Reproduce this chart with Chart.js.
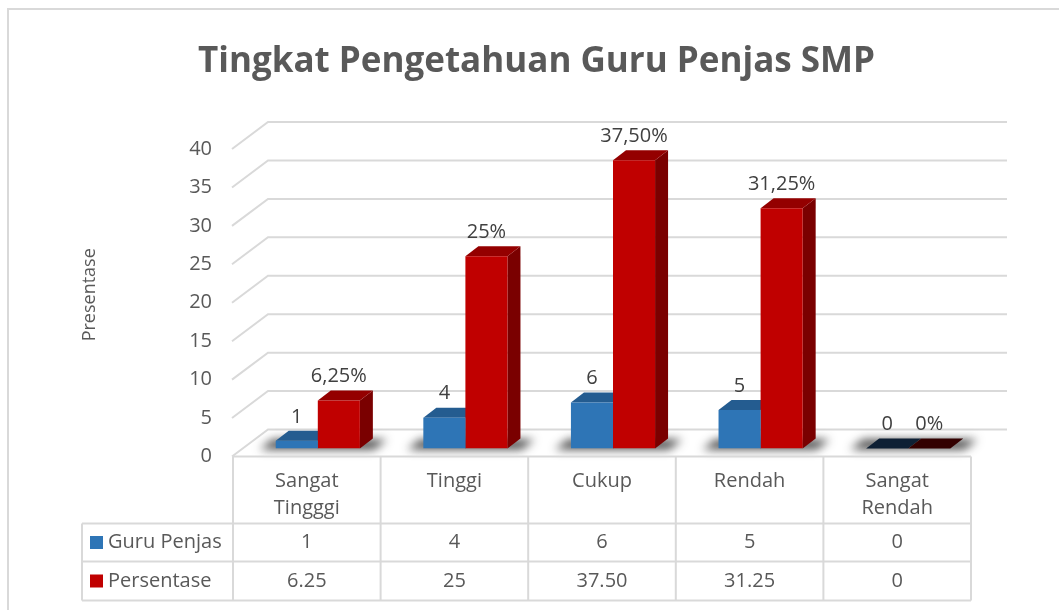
<!DOCTYPE html>
<html>
<head>
<meta charset="utf-8">
<script src="https://cdn.jsdelivr.net/npm/chart.js@4.4.1/dist/chart.umd.min.js"></script>
<style>
  html, body { margin: 0; padding: 0; background: #fff; }
  #wrap { width: 1059px; height: 610px; }
</style>
</head>
<body>
<div id="wrap"><canvas id="myChart" width="1059" height="610"></canvas></div>
<script>
  const categories = [['Sangat', 'Tingggi'], 'Tinggi', 'Cukup', 'Rendah', ['Sangat', 'Rendah']];
  const guruPenjas = [1, 4, 6, 5, 0];
  const persentase = [6.25, 25, 37.5, 31.25, 0];
  const persenLabels = ['6,25%', '25%', '37,50%', '31,25%', '0%'];
  const persenTable = ['6.25', '25', '37.50', '31.25', '0'];
  const seriesNames = ['Guru Penjas', 'Persentase'];
  const yMin = 0, yMax = 40, yStep = 5;

  const FONT = "'Open Sans', sans-serif";
  const TEXT = '#595959';
  const LINE = '#d9d9d9';
  // depth of bars and of the 3d walls
  const BDX = 13, BDY = -10;
  const faces = [
    { front: '#2E75B6', top: '#245C90', side: '#1F4E79', zero: '#0E2034' },
    { front: '#C00000', top: '#940000', side: '#7A0000', zero: '#330000' }
  ];

  function poly(ctx, pts, fill) {
    ctx.beginPath();
    ctx.moveTo(pts[0][0], pts[0][1]);
    for (let i = 1; i < pts.length; i++) ctx.lineTo(pts[i][0], pts[i][1]);
    ctx.closePath();
    ctx.fillStyle = fill;
    ctx.fill();
  }

  const bars3d = {
    id: 'bars3d',
    beforeDraw(chart) {
      const ctx = chart.ctx;
      ctx.save();
      ctx.strokeStyle = LINE;
      ctx.lineWidth = 2;
      ctx.beginPath();
      ctx.moveTo(8, 610); ctx.lineTo(8, 9); ctx.lineTo(1059, 9);
      ctx.stroke();
      ctx.restore();
    },
    beforeDatasetsDraw(chart) {
      const ctx = chart.ctx, a = chart.chartArea, ys = chart.scales.y;
      ctx.save();
      // 3d grid walls
      ctx.strokeStyle = LINE;
      ctx.lineWidth = 2;
      ys.ticks.forEach(t => {
        const p = ys.getPixelForValue(t.value);
        ctx.beginPath();
        ctx.moveTo(a.left - 12, p + 8);
        ctx.lineTo(a.left + 24, p - 19);
        ctx.lineTo(a.right + 25, p - 19);
        ctx.stroke();
      });
      const m0 = chart.getDatasetMeta(0).data, m1 = chart.getDatasetMeta(1).data;
      // floor shadows
      ctx.filter = 'blur(5px)';
      for (let i = 0; i < m0.length; i++) {
        const b0 = m0[i].getProps(['x', 'base', 'width'], true);
        const b1 = m1[i].getProps(['x', 'base', 'width'], true);
        const l = b0.x - b0.width / 2 - 16, r = b1.x + b1.width / 2 + 14;
        poly(ctx, [[l, b0.base + 1], [r, b0.base + 1], [r + BDX, b0.base + BDY + 1], [l + BDX, b0.base + BDY + 1]], 'rgba(30,30,30,0.8)');
      }
      ctx.filter = 'none';
      // side and top faces
      [m0, m1].forEach((meta, d) => {
        meta.forEach(el => {
          const b = el.getProps(['x', 'y', 'base', 'width'], true);
          const l = b.x - b.width / 2, r = b.x + b.width / 2;
          if (Math.abs(b.base - b.y) < 1) {
            poly(ctx, [[l, b.base], [r, b.base], [r + BDX, b.base + BDY], [l + BDX, b.base + BDY]], faces[d].zero);
            return;
          }
          poly(ctx, [[r, b.y], [r + BDX, b.y + BDY], [r + BDX, b.base + BDY], [r, b.base]], faces[d].side);
          poly(ctx, [[l, b.y], [r, b.y], [r + BDX, b.y + BDY], [l + BDX, b.y + BDY]], faces[d].top);
        });
      });
      ctx.restore();
    },
    afterDatasetsDraw(chart) {
      const ctx = chart.ctx;
      ctx.save();
      ctx.font = '20px ' + FONT;
      ctx.fillStyle = '#404040';
      ctx.textAlign = 'center';
      ctx.textBaseline = 'middle';
      chart.getDatasetMeta(0).data.forEach((el, i) => {
        ctx.fillText(String(guruPenjas[i]), el.x, el.y - 24);
      });
      chart.getDatasetMeta(1).data.forEach((el, i) => {
        ctx.fillText(persenLabels[i], el.x, el.y - 24);
      });
      ctx.restore();
    },
    afterDraw(chart) {
      // data table under the axis
      const ctx = chart.ctx, a = chart.chartArea, xs = chart.scales.x;
      const half = (xs.getPixelForValue(1) - xs.getPixelForValue(0)) / 2;
      const cx = i => xs.getPixelForValue(i) - 11;
      const colL = cx(0) - half, colR = cx(categories.length - 1) + half;
      const top = a.bottom + 8, r1 = top + 67, r2 = r1 + 38, r3 = r2 + 39, legL = 82;
      ctx.save();
      ctx.strokeStyle = LINE;
      ctx.lineWidth = 2;
      ctx.beginPath();
      ctx.moveTo(colL, top); ctx.lineTo(colR, top);
      [r1, r2, r3].forEach(y => { ctx.moveTo(legL, y); ctx.lineTo(colR, y); });
      ctx.moveTo(legL, r1); ctx.lineTo(legL, r3);
      for (let i = 0; i <= categories.length; i++) {
        const x = colL + i * half * 2;
        ctx.moveTo(x, top); ctx.lineTo(x, r3);
      }
      ctx.stroke();
      ctx.font = '20px ' + FONT;
      ctx.fillStyle = TEXT;
      ctx.textBaseline = 'middle';
      ctx.textAlign = 'center';
      const rows = [guruPenjas.map(String), persenTable];
      const ys = [(r1 + r2) / 2, (r2 + r3) / 2];
      rows.forEach((row, k) => {
        row.forEach((v, i) => ctx.fillText(v, cx(i), ys[k]));
      });
      ctx.textAlign = 'left';
      seriesNames.forEach((n, k) => {
        ctx.fillStyle = faces[k].front;
        ctx.fillRect(90, ys[k] - 6.5, 13, 13);
        ctx.fillStyle = TEXT;
        ctx.fillText(n, 108, ys[k]);
      });
      ctx.restore();
    }
  };

  const ctx = document.getElementById('myChart');
  new Chart(ctx, {
    type: 'bar',
    data: {
      labels: categories,
      datasets: [{
        label: seriesNames[0],
        data: guruPenjas,
        backgroundColor: faces[0].front,
        borderWidth: 0
      }, {
        label: seriesNames[1],
        data: persentase,
        backgroundColor: faces[1].front,
        borderWidth: 0
      }]
    },
    options: {
      responsive: false,
      animation: false,
      devicePixelRatio: 1,
      categoryPercentage: 0.57,
      barPercentage: 1.0,
      layout: { padding: { left: 91, right: 77, top: 0, bottom: 68.5 } },
      plugins: {
        legend: { display: false },
        tooltip: { enabled: false },
        title: {
          display: true,
          text: 'Tingkat Pengetahuan Guru Penjas SMP',
          color: TEXT,
          font: { family: FONT, size: 35, weight: 'bold', lineHeight: 1.2 },
          padding: { top: 41, bottom: 58 }
        }
      },
      scales: {
        x: {
          grid: { display: false, drawTicks: false },
          border: { display: false },
          ticks: {
            color: TEXT,
            font: { family: FONT, size: 20, lineHeight: '27px' },
            padding: 19.5,
            labelOffset: -11,
            maxRotation: 0,
            autoSkip: false
          }
        },
        y: {
          min: yMin,
          max: yMax,
          afterFit(axis) { axis.width = 153; },
          grid: { display: false, drawTicks: false },
          border: { display: false },
          ticks: {
            stepSize: yStep,
            color: TEXT,
            font: { family: FONT, size: 20 },
            padding: 32,
            labelOffset: 8
          },
          title: {
            display: true,
            text: 'Presentase',
            color: TEXT,
            font: { family: FONT, size: 18 },
            padding: { top: -12, bottom: 0 }
          }
        }
      }
    },
    plugins: [bars3d]
  });
</script>
</body>
</html>
